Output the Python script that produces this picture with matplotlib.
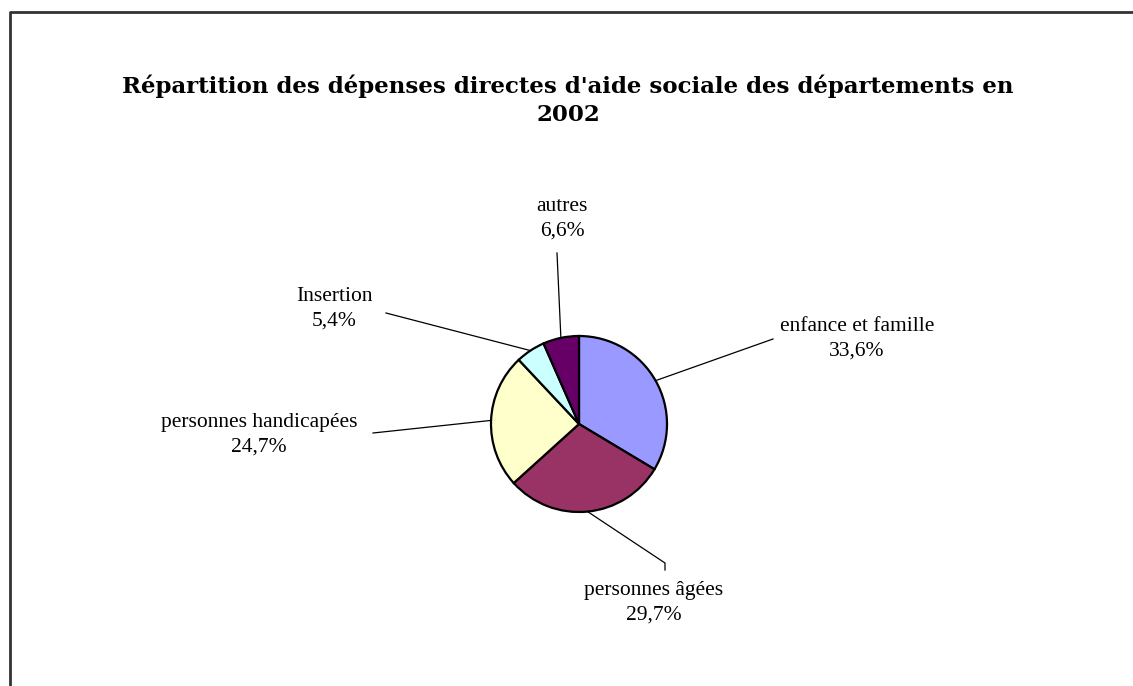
import matplotlib
matplotlib.use('Agg')
import matplotlib.pyplot as plt
import numpy as np

# data
labels = ['enfance et famille', 'personnes âgées', 'personnes handicapées', 'Insertion', 'autres']
values = [33.6, 29.7, 24.7, 5.4, 6.6]
pct_labels = ['33,6%', '29,7%', '24,7%', '5,4%', '6,6%']
colors = ['#9999FF', '#993366', '#FFFFCC', '#CCFFFF', '#660066']

W, H = 1133, 686
fig = plt.figure(figsize=(W / 100, H / 100), dpi=100)
ax = fig.add_axes([0, 0, 1, 1])

cx, cy, r = 579, H - 424, 88
wedges, _ = ax.pie(values, colors=colors, startangle=90, counterclock=False,
                   center=(cx, cy), radius=r, frame=True,
                   wedgeprops={'edgecolor': 'black', 'linewidth': 1.6})
ax.set_xlim(0, W)
ax.set_ylim(0, H)
ax.set_aspect('equal')
ax.axis('off')

# label placement (pixel coords, y from top): text centre, leader line end
label_pos = [(857, 339), (654, 603), (259, 435), (334, 309), (562, 219)]
line_end = [(773, 339), (665, 563), (373, 433), (386, 313), (557, 253)]

for w, lab, pct, (tx, ty), (lx, ly) in zip(wedges, labels, pct_labels, label_pos, line_end):
    ang = np.deg2rad((w.theta1 + w.theta2) / 2)
    ex, ey = cx + r * np.cos(ang), cy + r * np.sin(ang)
    xs = [ex, lx]
    ys = [ey, H - ly]
    if lab == 'personnes âgées':
        xs.append(lx)
        ys.append(H - ly - 7)
    ax.plot(xs, ys, color='black', lw=0.9)
    ax.text(tx, H - ty, lab + '\n' + pct, ha='center', va='center',
            fontsize=15.5, family='Liberation Serif', linespacing=1.4)

ax.text(568, H - 100, "Répartition des dépenses directes d'aide sociale des départements en\n2002",
        ha='center', va='center', fontsize=16.5, fontweight='bold',
        family='DejaVu Serif', linespacing=1.35)

# chart border (left and top edges)
ax.plot([10, 10, W], [0, H - 12, H - 12], color='#333333', lw=2, clip_on=False)

fig.savefig('out.png', dpi=100)
